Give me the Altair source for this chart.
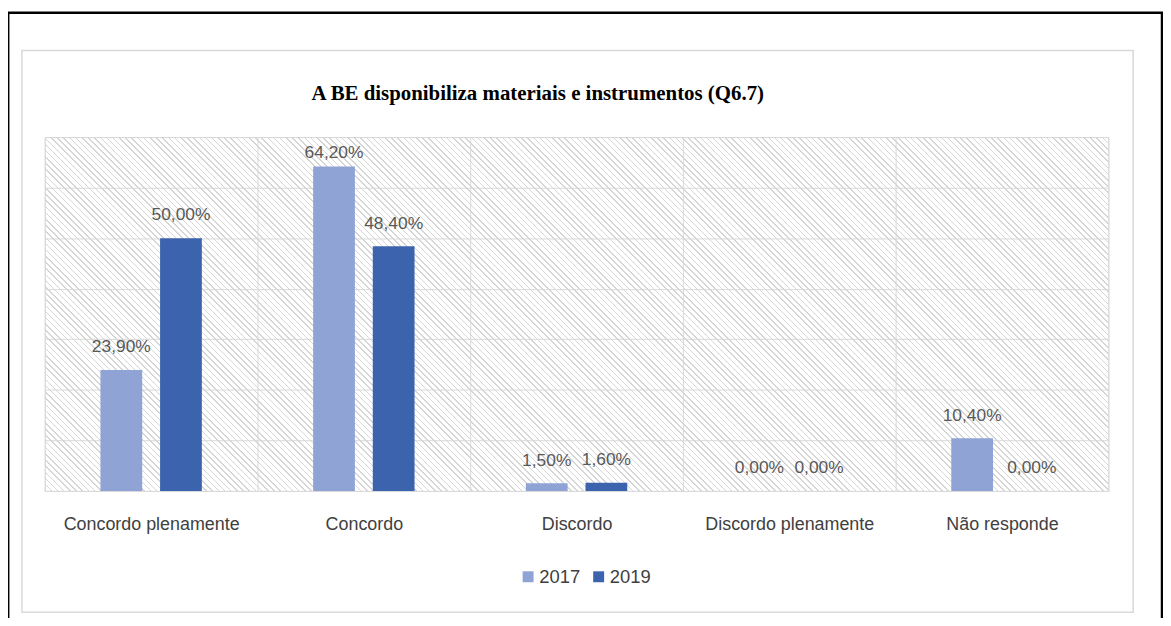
import altair as alt
import pandas as pd

# ---- data ----
categories = ["Concordo plenamente", "Concordo", "Discordo", "Discordo plenamente", "Não responde"]
years = ["2017", "2019"]
values_2017 = [23.9, 64.2, 1.5, 0.0, 10.4]
values_2019 = [50.0, 48.4, 1.6, 0.0, 0.0]
grid_values = [0, 10, 20, 30, 40, 50, 60, 70]
title_text = "A BE disponibiliza  materiais e instrumentos (Q6.7)"

colors = ["#8FA3D5", "#3C63AD"]
FONT = "Liberation Sans"
TXT = "#595959"
AXTXT = "#404040"
GRID = "#d9d9d9"

rows = []
for cat, a, b in zip(categories, values_2017, values_2019):
    for yr, v in zip(years, (a, b)):
        rows.append({"categoria": cat, "ano": yr, "valor": v,
                     "rotulo": f"{v:.2f}".replace(".", ",") + "%"})
df = pd.DataFrame(rows)

W, H = 1070, 356

# ---- diagonal hatch for the plot background (linear gradient with hard stops) ----
ratio = H / W
k = (1 + ratio) / (1 + ratio ** 2)
L = (W + H) / 2 ** 0.5
period = 4.4
line_w = 1.1
hatch_col = "#d6d6d6"
clear = "rgba(255,255,255,0)"
stops = []
i = 0
while i * period / L < 1:
    a = i * period / L
    b = min((i * period + line_w) / L, 1)
    c = min((i + 1) * period / L, 1)
    stops += [alt.GradientStop(offset=a, color=hatch_col),
              alt.GradientStop(offset=b, color=hatch_col),
              alt.GradientStop(offset=b, color=clear),
              alt.GradientStop(offset=c, color=clear)]
    i += 1
grad = alt.LinearGradient(gradient="linear", stops=stops, x1=0, y1=1, x2=k, y2=1 - k * ratio)

one = alt.Data(values=[{"a": 1}])

black_frame = alt.Chart(one).mark_rect(fillOpacity=0, stroke="#000000", strokeWidth=2.5).encode(
    x=alt.value(-36.8), x2=alt.value(1124), y=alt.value(-125), y2=alt.value(540))
gray_frame = alt.Chart(one).mark_rect(fillOpacity=0, stroke=GRID, strokeWidth=1.5).encode(
    x=alt.value(-23), x2=alt.value(1095), y=alt.value(-87), y2=alt.value(478))
hatch = alt.Chart(one).mark_rect(fill=grad).encode(
    x=alt.value(0), x2=alt.value(W), y=alt.value(0), y2=alt.value(H))

x_enc = alt.X("categoria:N", sort=categories,
              scale=alt.Scale(paddingInner=0, paddingOuter=0),
              axis=alt.Axis(title=None, labelAngle=0, labelFont=FONT, labelFontSize=18,
                            labelColor=AXTXT, ticks=False, tickSize=0, domain=False,
                            labelPadding=39, labelBaseline="alphabetic", labelLimit=400,
                            grid=True, gridColor=GRID, gridWidth=1, tickBand="extent"))
y_enc = alt.Y("valor:Q", scale=alt.Scale(domain=[0, 70], nice=False),
              axis=alt.Axis(title=None, labels=False, ticks=False, domain=False,
                            values=grid_values, grid=True, gridColor=GRID, gridWidth=1))
xo_enc = alt.XOffset("ano:N", sort=years, scale=alt.Scale(paddingInner=0.3, paddingOuter=0.933))

bars = alt.Chart(df).mark_bar().encode(
    x=x_enc, y=y_enc, xOffset=xo_enc,
    color=alt.Color("ano:N", sort=years, scale=alt.Scale(domain=years, range=colors),
                    legend=alt.Legend(title=None, orient="none", legendX=477, legendY=433,
                                      direction="horizontal", symbolType="square",
                                      symbolSize=121, symbolStrokeWidth=0,
                                      labelFont=FONT, labelFontSize=18.5, labelColor=AXTXT,
                                      labelOffset=2, columnPadding=9, padding=0)),
)

labels = alt.Chart(df).transform_calculate(
    pos="min(datum.valor + 3.5, 65.9)"
).mark_text(font=FONT, fontSize=17.5, color=TXT, baseline="alphabetic", align="center").encode(
    x=alt.X("categoria:N", sort=categories),
    xOffset=alt.XOffset("ano:N", sort=years),
    y=alt.Y("pos:Q"),
    text="rotulo:N",
)

chart = alt.layer(black_frame, gray_frame, hatch, bars, labels).properties(
    width=W, height=H,
    padding={"left": 37, "top": 128, "right": 55, "bottom": 126},
    autosize=alt.AutoSizeParams(type="none"),
    title=alt.Title(title_text, font="Liberation Serif", fontSize=21, fontWeight="bold",
                    color="#000000", anchor="middle", frame="group", offset=-110,
                    baseline="alphabetic", dx=-39),
).configure_view(stroke=GRID).configure(background="#ffffff")

chart.save("out.html", embed_options={"renderer": "svg", "actions": False})
